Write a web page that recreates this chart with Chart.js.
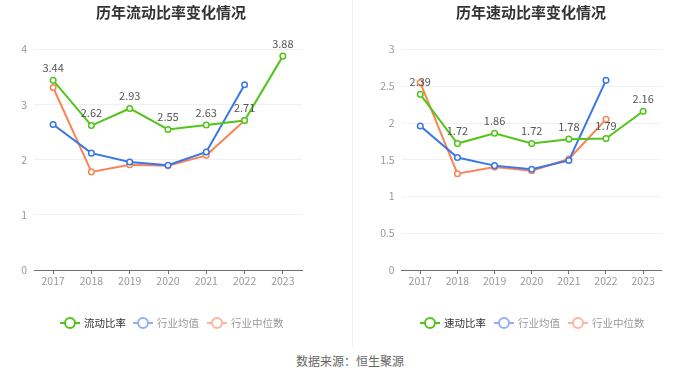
<!DOCTYPE html>
<html><head><meta charset="utf-8">
<script src="https://cdn.jsdelivr.net/npm/chart.js@4/dist/chart.umd.min.js"></script>
<style>
html,body{margin:0;padding:0;background:#fff;width:700px;height:378px;overflow:hidden;font-family:"Noto Sans CJK SC","Noto Sans",sans-serif;}
#c1wrap{position:absolute;left:0;top:0;width:350px;height:345px;}
#c2wrap{position:absolute;left:350px;top:0;width:350px;height:345px;}
#divider{position:absolute;left:352px;top:0;width:1px;height:347px;background:#f0f0f0;}
#source{position:absolute;left:0;width:700px;top:352px;text-align:center;font-size:12px;color:#666;line-height:18px;}
</style></head>
<body>
<div id="c1wrap"><canvas id="c1"></canvas></div>
<div id="divider"></div>
<div id="c2wrap"><canvas id="c2"></canvas></div>
<div id="source">数据来源：恒生聚源</div>
<script>
const years = ['2017','2018','2019','2020','2021','2022','2023'];
const currentRatio = [3.44, 2.62, 2.93, 2.55, 2.63, 2.71, 3.88];
const currentIndustryAvg = [2.64, 2.12, 1.96, 1.90, 2.14, 3.36, null];
const currentIndustryMedian = [3.31, 1.78, 1.91, 1.89, 2.08, 2.71, null];
const quickRatio = [2.39, 1.72, 1.86, 1.72, 1.78, 1.79, 2.16];
const quickIndustryAvg = [1.96, 1.53, 1.42, 1.37, 1.49, 2.58, null];
const quickIndustryMedian = [2.55, 1.31, 1.40, 1.35, 1.51, 2.05, null];
const leftTicks = [0, 1, 2, 3, 4];
const rightTicks = [0, 0.5, 1, 1.5, 2, 2.5, 3];

const GREEN = '#52c41a', BLUE = '#3a76e8', ORANGE = '#fb8454';
const FONT = '"Noto Sans CJK SC","Noto Sans",sans-serif';

function makeDs(label, data, color) {
  return {label, data, borderColor: color, backgroundColor: '#fff',
    pointBackgroundColor: '#fff', pointBorderColor: color, pointBorderWidth: 1.5,
    pointRadius: 2.8, borderWidth: 2, tension: 0, spanGaps: false, fill: false};
}

function overlay(cfg) {
  return {
    id: 'overlay',
    afterDatasetsDraw(chart) {
      const ctx = chart.ctx;
      ctx.save();
      const meta = chart.getDatasetMeta(0);
      ctx.font = '11px ' + FONT;
      ctx.fillStyle = '#555';
      ctx.textAlign = 'center';
      ctx.textBaseline = 'middle';
      meta.data.forEach((pt, i) => {
        const v = chart.data.datasets[0].data[i];
        if (v == null) return;
        ctx.fillText(v.toFixed(2), pt.x, pt.y - 12.5);
      });
      ctx.font = 'bold 15px ' + FONT;
      ctx.fillStyle = '#333';
      ctx.fillText(cfg.title, cfg.titleX, 12);
      cfg.legend.forEach(it => {
        ctx.strokeStyle = it.iconColor;
        ctx.lineWidth = 2;
        ctx.beginPath();
        ctx.moveTo(it.x, cfg.legendY);
        ctx.lineTo(it.x + 20, cfg.legendY);
        ctx.stroke();
        ctx.beginPath();
        ctx.arc(it.x + 10, cfg.legendY, 5, 0, Math.PI * 2);
        ctx.fillStyle = '#fff';
        ctx.fill();
        ctx.stroke();
        ctx.font = '10.5px ' + FONT;
        ctx.fillStyle = it.textColor;
        ctx.textAlign = 'left';
        ctx.fillText(it.text, it.x + 24, cfg.legendY);
      });
      ctx.restore();
    }
  };
}

function build(id, d, ticks, maxV, yWidth, padRight, cfg) {
  return new Chart(document.getElementById(id), {
    type: 'line',
    data: {labels: years, datasets: [
      makeDs(cfg.names[0], d[0], GREEN),
      makeDs(cfg.names[1], d[1], BLUE),
      makeDs(cfg.names[2], d[2], ORANGE)
    ]},
    options: {
      responsive: true, maintainAspectRatio: false, animation: false,
      layout: {padding: {left: 0, right: padRight, top: 49.5, bottom: 45}},
      plugins: {legend: {display: false}, title: {display: false}, tooltip: {enabled: false}},
      scales: {
        x: {
          offset: true,
          grid: {offset: false, drawOnChartArea: false, drawTicks: true, tickLength: 4, color: '#6e7079'},
          border: {display: true, color: '#6e7079', width: 1},
          ticks: {color: '#999', font: {size: 10.5, family: FONT}, padding: 1, maxRotation: 0, autoSkip: false},
          afterFit(s) { s.height = 30; }
        },
        y: {
          min: 0, max: maxV,
          afterBuildTicks(s) { s.ticks = ticks.map(v => ({value: v})); },
          grid: {color: '#eef0f6', drawTicks: false, lineWidth: 1},
          border: {display: false},
          ticks: {color: '#999', font: {size: 10.5, family: FONT}, padding: 7,
                  callback: v => String(v)},
          afterFit(s) { s.width = yWidth; }
        }
      }
    },
    plugins: [overlay(cfg)]
  });
}

build('c1', [currentRatio, currentIndustryAvg, currentIndustryMedian], leftTicks, 4, 34, 48, {
  names: ['流动比率','行业均值','行业中位数'],
  title: '历年流动比率变化情况', titleX: 171, legendY: 323,
  legend: [
    {x: 60, text: '流动比率', iconColor: GREEN, textColor: '#333'},
    {x: 133, text: '行业均值', iconColor: '#8fb1f4', textColor: '#999'},
    {x: 207, text: '行业中位数', iconColor: '#fdb59b', textColor: '#999'}
  ]
});
build('c2', [quickRatio, quickIndustryAvg, quickIndustryMedian], rightTicks, 3, 51.7, 38.3, {
  names: ['速动比率','行业均值','行业中位数'],
  title: '历年速动比率变化情况', titleX: 181, legendY: 323,
  legend: [
    {x: 70, text: '速动比率', iconColor: GREEN, textColor: '#333'},
    {x: 144, text: '行业均值', iconColor: '#8fb1f4', textColor: '#999'},
    {x: 218, text: '行业中位数', iconColor: '#fdb59b', textColor: '#999'}
  ]
});
</script>
</body></html>
